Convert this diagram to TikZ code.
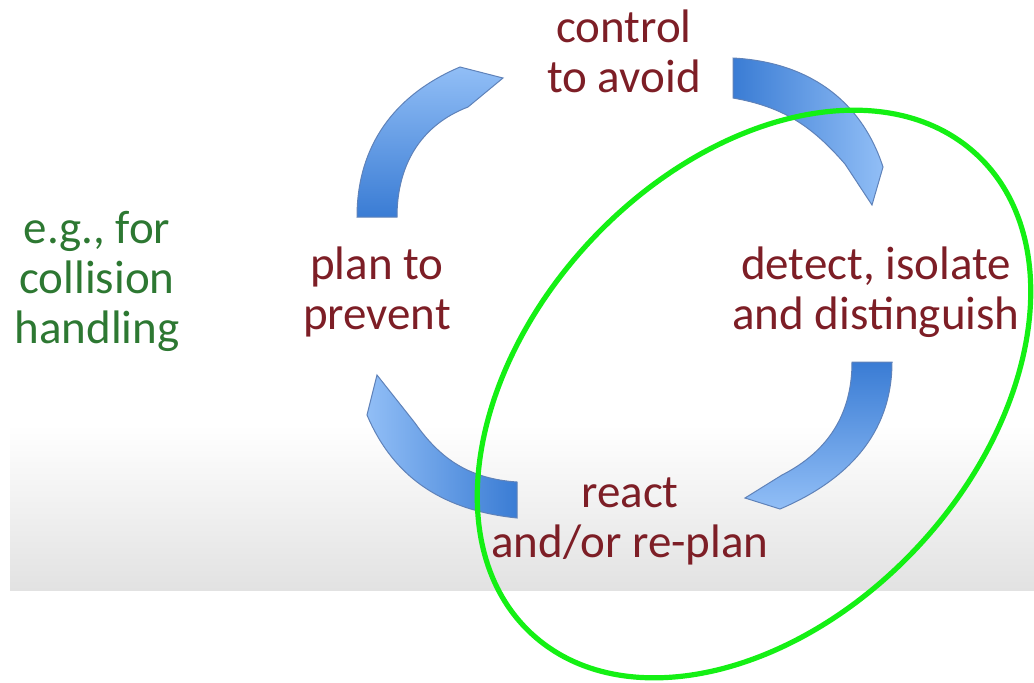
\documentclass[tikz,border=0pt]{standalone}
\usepackage{fontspec}
\setmainfont{Carlito}
\definecolor{stagered}{RGB}{125,30,38}
\definecolor{notegreen}{RGB}{45,120,50}
\definecolor{ringgreen}{RGB}{20,240,20}
\definecolor{banddark}{RGB}{58,124,212}
\definecolor{bandlight}{RGB}{145,190,246}
\definecolor{bandedge}{RGB}{95,130,185}
\definecolor{floorgray}{RGB}{226,226,226}

\begin{document}
\begin{tikzpicture}[
    x=0.5pt, y=-0.5pt,
    every node/.style={font=\fontsize{23.5}{25}\selectfont, inner sep=0pt},
    stage/.style={align=center, text=stagered},
    note/.style={align=center, text=notegreen},
    band/.style={draw=bandedge, line width=0.5pt},
    ring/.style={draw=ringgreen, line width=2.6pt}
]
\useasboundingbox (0,0) rectangle (1034,682);
\shade[top color=white, bottom color=floorgray] (10,425) rectangle (1034,590);

\shade[band, top color=bandlight, bottom color=banddark]
  (357,217) to[out=90, in=203] (460,67) -- (503,78) -- (468,107)
  to[out=201, in=90] (397,217) -- cycle;
\shade[band, left color=banddark, right color=bandlight]
  (733,58) to[out=-3, in=108] (883,167) -- (872,205) -- (845,164)
  to[out=131, in=-10] (733,98) -- cycle;
\shade[band, top color=banddark, bottom color=bandlight]
  (892,362) to[out=-90, in=23] (780,509) -- (745,498) -- (782,475)
  to[out=27, in=-90] (852,362) -- cycle;
\shade[band, left color=bandlight, right color=banddark]
  (377,375) -- (367,415) to[out=-67, in=174] (517,518) -- (517,482)
  to[out=176, in=-55] (415,423) -- cycle;

\node[stage] (avoid) at (624,51) {control\\to avoid};
\node[stage] (detect) at (876,292) {detect, isolate\\and distinguish};
\node[stage] (replan) at (630,521) {react\\and/or re-plan};
\node[stage] (prevent) at (377,292) {plan to\\prevent};
\node[note] (example) at (97,281) {e.g., for\\collision\\handling};

\draw[ring, rotate around={47:(754,394)}] (754,394) ellipse [x radius=163.5pt, y radius=112pt];
\end{tikzpicture}
\end{document}
